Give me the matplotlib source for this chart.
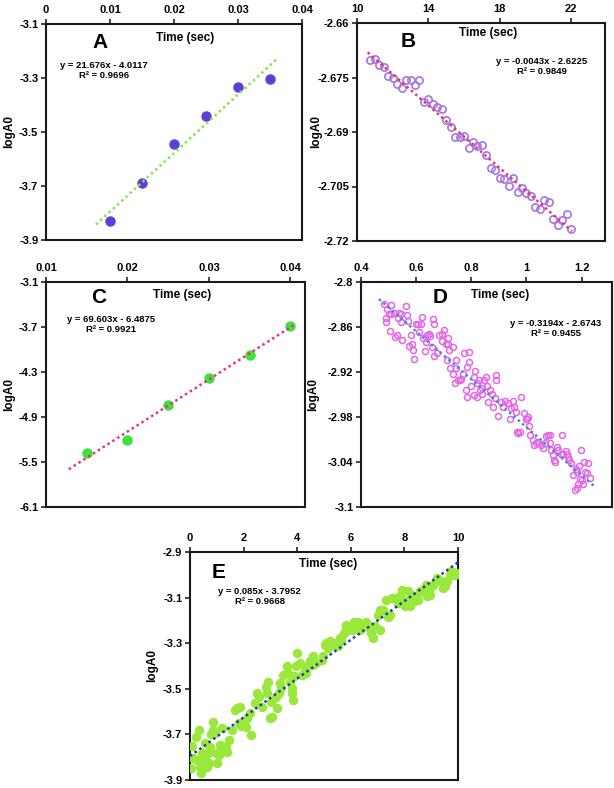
import matplotlib
matplotlib.use("Agg")
import matplotlib.pyplot as plt
import numpy as np

plt.rcParams['font.family'] = ['Liberation Sans', 'DejaVu Sans']
plt.rcParams['font.weight'] = 'bold'

# ---------------- DATA ----------------
# Panel A
a_x = [0.010, 0.015, 0.020, 0.025, 0.030, 0.035]
a_y = [-3.83, -3.69, -3.545, -3.44, -3.335, -3.305]
a_fit = (21.676, -4.0117)
a_fit_range = (0.0078, 0.036)
a_eq = "y = 21.676x - 4.0117\nR² = 0.9696"

# Panel B
b_x = [10.75, 11.00, 11.25, 11.50, 11.75, 12.00, 12.25, 12.50, 12.75, 13.00,
       13.25, 13.50, 13.75, 14.00, 14.25, 14.50, 14.75, 15.00, 15.25, 15.50,
       15.75, 16.00, 16.25, 16.50, 16.75, 17.00, 17.25, 17.50, 17.75, 18.00,
       18.25, 18.50, 18.75, 19.00, 19.25, 19.50, 19.75, 20.00, 20.25, 20.50,
       20.75, 21.00, 21.25, 21.50, 21.75, 22.00]
b_y = [-2.6701, -2.6699, -2.6716, -2.6721, -2.6747, -2.6750, -2.6767, -2.6779, -2.6758, -2.6758,
       -2.6771, -2.6758, -2.6817, -2.6809, -2.6822, -2.6831, -2.6837, -2.6868, -2.6886, -2.6915,
       -2.6914, -2.6910, -2.6943, -2.6928, -2.6939, -2.6937, -2.6964, -2.6998, -2.7005, -2.7027,
       -2.7028, -2.7048, -2.7027, -2.7065, -2.7054, -2.7067, -2.7077, -2.7106, -2.7111, -2.7086,
       -2.7092, -2.7139, -2.7155, -2.7143, -2.7127, -2.7167]
b_fit = (-0.0043, -2.6225)
b_fit_range = (10.6, 22.05)
b_eq = "y = -0.0043x - 2.6225\nR² = 0.9849"

# Panel C
c_x = [0.015, 0.020, 0.025, 0.030, 0.035, 0.040]
c_y = [-5.376, -5.20, -4.744, -4.38, -4.078, -3.691]
c_fit = (69.603, -6.4875)
c_fit_range = (0.0128, 0.0407)
c_eq = "y = 69.603x - 6.4875\nR² = 0.9921"

# Panel D
d_x = [0.484, 0.510, 0.494, 0.501, 0.489, 0.489, 0.509, 0.519, 0.537, 0.546,
       0.535, 0.546, 0.506, 0.522, 0.531, 0.547, 0.562, 0.565, 0.570, 0.580,
       0.585, 0.574, 0.593, 0.589, 0.598, 0.606, 0.617, 0.621, 0.611, 0.626,
       0.640, 0.647, 0.650, 0.660, 0.663, 0.635, 0.633, 0.663, 0.658, 0.674,
       0.681, 0.692, 0.695, 0.702, 0.708, 0.710, 0.717, 0.720, 0.715, 0.732,
       0.724, 0.732, 0.744, 0.743, 0.740, 0.750, 0.758, 0.764, 0.770, 0.775,
       0.791, 0.792, 0.786, 0.780, 0.784, 0.800, 0.815, 0.809, 0.821, 0.826,
       0.810, 0.822, 0.831, 0.837, 0.839, 0.847, 0.852, 0.855, 0.859, 0.867,
       0.874, 0.879, 0.885, 0.888, 0.891, 0.897, 0.909, 0.915, 0.922, 0.933,
       0.943, 0.939, 0.955, 0.952, 0.963, 0.966, 0.970, 0.975, 0.981, 0.990,
       0.997, 1.002, 1.005, 1.009, 1.011, 1.024, 1.026, 1.036, 1.040, 1.054,
       1.060, 1.067, 1.072, 1.078, 1.084, 1.086, 1.090, 1.096, 1.101, 1.103,
       1.110, 1.115, 1.126, 1.132, 1.142, 1.147, 1.150, 1.127, 1.154, 1.162,
       1.178, 1.183, 1.192, 1.198, 1.210, 1.212, 1.220, 1.222, 1.231, 1.201,
       1.204, 1.186, 1.183, 1.175, 1.168, 1.195]
d_y = [-2.829, -2.830, -2.836, -2.842, -2.848, -2.853, -2.842, -2.841, -2.841, -2.842,
       -2.848, -2.853, -2.865, -2.873, -2.871, -2.877, -2.832, -2.844, -2.852, -2.870,
       -2.882, -2.885, -2.902, -2.891, -2.856, -2.856, -2.856, -2.847, -2.867, -2.875,
       -2.871, -2.869, -2.872, -2.849, -2.856, -2.880, -2.892, -2.899, -2.887, -2.895,
       -2.871, -2.869, -2.878, -2.864, -2.883, -2.904, -2.874, -2.891, -2.882, -2.887,
       -2.915, -2.922, -2.915, -2.904, -2.935, -2.930, -2.930, -2.929, -2.922, -2.895,
       -2.893, -2.906, -2.913, -2.944, -2.953, -2.939, -2.918, -2.927, -2.935, -2.931,
       -2.950, -2.953, -2.944, -2.949, -2.941, -2.931, -2.927, -2.938, -2.960, -2.944,
       -2.949, -2.967, -2.954, -2.924, -2.931, -2.978, -2.960, -2.967, -2.958, -2.961,
       -2.968, -2.983, -2.967, -2.958, -2.973, -3.000, -3.002, -3.000, -2.953, -2.975,
       -2.982, -2.983, -2.980, -2.992, -3.004, -3.011, -3.018, -3.015, -3.013, -3.018,
       -3.022, -3.015, -3.006, -3.004, -3.004, -3.015, -3.024, -3.031, -3.038, -3.040,
       -3.020, -3.024, -3.029, -3.029, -3.026, -3.029, -3.033, -3.004, -3.038, -3.041,
       -3.049, -3.053, -3.046, -3.024, -3.040, -3.053, -3.055, -3.042, -3.062, -3.064,
       -3.069, -3.069, -3.075, -3.077, -3.058, -3.063]
d_fit = (-0.3194, -2.6743)
d_fit_range = (0.465, 1.252)
d_eq = "y = -0.3194x - 2.6743\nR² = 0.9455"

# Panel E
e_x = [0.025, 0.062, 0.124, 0.224, 0.273, 0.323, 0.373, 0.410, 0.460, 0.497,
       0.559, 0.559, 0.621, 0.683, 0.720, 0.745, 0.795, 0.845, 0.870, 0.932,
       0.969, 1.019, 1.068, 1.118, 1.193, 1.217, 1.267, 1.342, 1.391, 1.466,
       1.553, 1.665, 1.739, 1.863, 1.838, 1.888, 2.012, 2.087, 2.112, 2.273,
       2.236, 2.422, 2.509, 2.584, 2.671, 2.832, 2.857, 2.919, 2.981, 3.006,
       3.043, 3.193, 3.230, 3.354, 3.379, 3.329, 3.453, 3.602, 3.652, 3.727,
       3.789, 3.814, 3.826, 3.876, 3.975, 3.938, 4.099, 4.161, 4.273, 4.311,
       4.410, 4.472, 4.571, 4.596, 4.720, 4.907, 4.969, 5.031, 5.093, 5.155,
       5.242, 5.342, 5.466, 5.540, 5.590, 5.652, 5.739, 5.814, 5.839, 5.901,
       6.000, 6.087, 6.137, 6.273, 6.335, 6.373, 6.584, 6.683, 6.770, 6.832,
       6.894, 7.019, 7.081, 7.106, 7.205, 7.329, 7.391, 7.453, 7.528, 7.702,
       7.764, 7.851, 7.913, 7.950, 8.012, 8.075, 8.149, 8.199, 8.261, 8.348,
       8.422, 8.509, 8.571, 8.634, 8.696, 8.795, 8.845, 8.919, 8.969, 9.068,
       9.193, 9.230, 9.379, 9.441, 9.516, 9.590, 9.689, 9.752, 9.839, 9.938,
       9.960]
e_y = [-3.849, -3.751, -3.805, -3.710, -3.812, -3.680, -3.841, -3.871, -3.783, -3.819,
       -3.805, -3.739, -3.841, -3.783, -3.827, -3.754, -3.699, -3.680, -3.644, -3.695,
       -3.783, -3.827, -3.790, -3.746, -3.673, -3.768, -3.761, -3.754, -3.775, -3.724,
       -3.680, -3.592, -3.585, -3.578, -3.648, -3.663, -3.644, -3.666, -3.629, -3.702,
       -3.607, -3.563, -3.519, -3.534, -3.578, -3.490, -3.519, -3.468, -3.629, -3.556,
       -3.622, -3.534, -3.585, -3.475, -3.497, -3.519, -3.439, -3.402, -3.431, -3.472,
       -3.519, -3.497, -3.549, -3.446, -3.344, -3.402, -3.388, -3.439, -3.417, -3.431,
       -3.402, -3.380, -3.358, -3.395, -3.385, -3.373, -3.358, -3.307, -3.300, -3.322,
       -3.292, -3.307, -3.300, -3.314, -3.278, -3.285, -3.256, -3.234, -3.219, -3.241,
       -3.226, -3.241, -3.205, -3.205, -3.241, -3.226, -3.205, -3.234, -3.256, -3.278,
       -3.226, -3.175, -3.241, -3.153, -3.153, -3.109, -3.183, -3.175, -3.102, -3.102,
       -3.124, -3.095, -3.065, -3.109, -3.139, -3.117, -3.073, -3.139, -3.087, -3.117,
       -3.095, -3.109, -3.073, -3.073, -3.065, -3.043, -3.095, -3.073, -3.087, -3.043,
       -3.029, -3.014, -3.029, -3.058, -3.048, -3.029, -3.000, -2.985, -3.000, -2.992,
       -2.995]
e_fit = (0.085, -3.7952)
e_fit_range = (0.0, 10.0)
e_eq = "y = 0.085x - 3.7952\nR² = 0.9668"

# axis ticks / labels
a_xticks = [0, 0.01, 0.02, 0.03, 0.04]; a_xlabels = ["0", "0.01", "0.02", "0.03", "0.04"]
a_yticks = [-3.1, -3.3, -3.5, -3.7, -3.9]; a_ylabels = ["-3.1", "-3.3", "-3.5", "-3.7", "-3.9"]
b_xticks = [10, 14, 18, 22]; b_xlabels = ["10", "14", "18", "22"]
b_yticks = [-2.66, -2.675, -2.69, -2.705, -2.72]; b_ylabels = ["-2.66", "-2.675", "-2.69", "-2.705", "-2.72"]
c_xticks = [0.01, 0.02, 0.03, 0.04]; c_xlabels = ["0.01", "0.02", "0.03", "0.04"]
c_yticks = [-3.1, -3.7, -4.3, -4.9, -5.5, -6.1]; c_ylabels = ["-3.1", "-3.7", "-4.3", "-4.9", "-5.5", "-6.1"]
d_xticks = [0.4, 0.6, 0.8, 1.0, 1.2]; d_xlabels = ["0.4", "0.6", "0.8", "1", "1.2"]
d_yticks = [-2.8, -2.86, -2.92, -2.98, -3.04, -3.1]; d_ylabels = ["-2.8", "-2.86", "-2.92", "-2.98", "-3.04", "-3.1"]
e_xticks = [0, 2, 4, 6, 8, 10]; e_xlabels = ["0", "2", "4", "6", "8", "10"]
e_yticks = [-2.9, -3.1, -3.3, -3.5, -3.7, -3.9]; e_ylabels = ["-2.9", "-3.1", "-3.3", "-3.5", "-3.7", "-3.9"]

x_title = "Time (sec)"
y_title = "logA0"

# ---------------- FIGURE ----------------
W, H = 614, 788
fig = plt.figure(figsize=(W / 100, H / 100), dpi=100)
fig.patch.set_facecolor('white')


def rect(l, t, r, b):
    return [l / W, 1 - b / H, (r - l) / W, (b - t) / H]


def style(ax, xlim, ylim, xt, xl, yt, yl, ylab_x):
    ax.set_xlim(*xlim)
    ax.set_ylim(*ylim)
    ax.xaxis.tick_top()
    ax.set_xticks(xt)
    ax.set_xticklabels(xl, fontsize=8, fontweight='bold')
    ax.set_yticks(yt)
    ax.set_yticklabels(yl, fontsize=8, fontweight='bold')
    ax.tick_params(axis='both', direction='out', length=3.5, width=1.2, color='#222222')
    ax.tick_params(axis='x', pad=3)
    ax.tick_params(axis='y', pad=2)
    for s in ax.spines.values():
        s.set_linewidth(1.5)
        s.set_color('#1a1a1a')
    ax.set_ylabel(y_title, fontsize=8.5, fontweight='bold')
    ax.yaxis.set_label_coords(ylab_x, 0.5)


def trend(ax, fit, rng, color):
    xs = np.array(rng)
    ax.plot(xs, fit[0] * xs + fit[1], linestyle=(0, (1.0, 1.3)), color=color,
            lw=1.8, dash_capstyle='butt', zorder=4)


def labels(ax, letter, lpos, tpos, eq, epos):
    ax.text(lpos[0], lpos[1], letter, transform=ax.transAxes, fontsize=15,
            fontweight='bold', ha='center', va='center')
    ax.text(tpos[0], tpos[1], x_title, transform=ax.transAxes, fontsize=8.5,
            fontweight='bold', ha='center', va='center')
    ax.text(epos[0], epos[1], eq, transform=ax.transAxes, fontsize=6.8,
            fontweight='bold', ha='center', va='center', multialignment='center',
            linespacing=1.15)


# Panel A
axA = fig.add_axes(rect(46, 24, 302, 240))
axA.plot(a_x, a_y, 'o', color='#5a3fdc', ms=6.5, mec='#5a3fdc', zorder=3)
trend(axA, a_fit, a_fit_range, '#80e84c')
style(axA, (0, 0.04), (-3.9, -3.1), a_xticks, a_xlabels, a_yticks, a_ylabels, -0.12)
labels(axA, "A", (0.21, 0.915), (0.545, 0.935), a_eq, (0.225, 0.785))

# Panel B
axB = fig.add_axes(rect(357, 23, 605, 241))
axB.plot(b_x, b_y, 'o', mfc='none', mec='#a574e6', ms=5.2, mew=1.2, zorder=3)
trend(axB, b_fit, b_fit_range, '#e8336e')
style(axB, (10, 23.9), (-2.72, -2.66), b_xticks, b_xlabels, b_yticks, b_ylabels, -0.14)
labels(axB, "B", (0.205, 0.915), (0.53, 0.953), b_eq, (0.745, 0.8))

# Panel C
axC = fig.add_axes(rect(46, 282, 305, 507))
axC.plot(c_x, c_y, 'o', color='#3ee23a', ms=6.5, mec='#3ee23a', zorder=3)
trend(axC, c_fit, c_fit_range, '#ea2c8c')
style(axC, (0.01, 0.0418), (-6.1, -3.1), c_xticks, c_xlabels, c_yticks, c_ylabels, -0.12)
labels(axC, "C", (0.205, 0.93), (0.525, 0.942), c_eq, (0.25, 0.813))

# Panel D
axD = fig.add_axes(rect(361, 282, 612, 507))
axD.plot(d_x, d_y, 'o', mfc='none', mec='#e466e6', ms=4.3, mew=1.1, zorder=3)
trend(axD, d_fit, d_fit_range, '#4a86d6')
style(axD, (0.4, 1.31), (-3.1, -2.8), d_xticks, d_xlabels, d_yticks, d_ylabels, -0.165)
labels(axD, "D", (0.315, 0.93), (0.555, 0.942), d_eq, (0.775, 0.793))

# Panel E
axE = fig.add_axes(rect(190, 552, 458, 780))
axE.plot(e_x, e_y, 'o', color='#9be83c', ms=5.8, mec='#9be83c', zorder=3)
trend(axE, e_fit, e_fit_range, '#2636b0')
style(axE, (0, 10), (-3.9, -2.9), e_xticks, e_xlabels, e_yticks, e_ylabels, -0.12)
labels(axE, "E", (0.105, 0.91), (0.515, 0.947), e_eq, (0.26, 0.805))

fig.savefig("out.png", dpi=100, facecolor='white')
